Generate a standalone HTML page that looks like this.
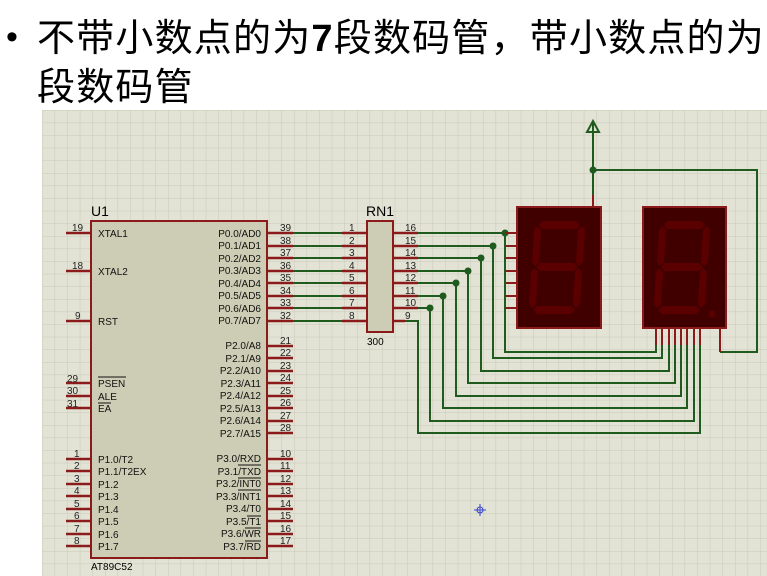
<!DOCTYPE html>
<html><head><meta charset="utf-8"><style>
body{margin:0;width:767px;height:576px;background:#fff;overflow:hidden;position:relative;font-family:"Liberation Sans","Noto Sans CJK SC",sans-serif}
.t{position:absolute;left:37px;font-size:38px;line-height:40px;color:#000;white-space:nowrap;letter-spacing:1.2px;font-family:"Liberation Sans","Noto Sans CJK SC",sans-serif}
</style></head><body>
<div style="position:absolute;left:6px;top:18px;font-size:34px">•</div>
<div class="t" style="top:19px">不带小数点的为<b>7</b>段数码管，带小数点的为</div>
<div class="t" style="top:68px">段数码管</div>
<svg width="767" height="576" style="position:absolute;left:0;top:0" font-family="Liberation Sans, sans-serif">
<defs><pattern id="g" x="42" y="110" width="12.6" height="12.6" patternUnits="userSpaceOnUse"><rect width="12.6" height="12.6" fill="#e3e3d5"/><path d="M0 0H12.6M0 0V12.6" stroke="#c9c9b9" stroke-width="1"/></pattern></defs>
<rect x="42" y="110" width="725" height="466" fill="url(#g)"/>
<rect x="91" y="221" width="176" height="337" fill="#cdcdb5" stroke="#8b1a1a" stroke-width="2"/>
<text x="91" y="216" font-size="14">U1</text>
<text x="91" y="570" font-size="10">AT89C52</text>
<g stroke="#8b1a1a" stroke-width="2.5">
<path d="M66 233H91M66 271H91M66 321H91M66 383H91M66 396H91M66 408H91"/>
<path d="M66 459H91M66 471H91M66 484H91M66 496H91M66 509H91M66 521H91M66 534H91M66 546H91"/>
<path d="M267 233H293M267 246H293M267 258H293M267 271H293M267 283H293M267 296H293M267 308H293M267 321H293"/>
<path d="M267 346H293M267 358H293M267 371H293M267 383H293M267 396H293M267 408H293M267 421H293M267 433H293"/>
<path d="M267 459H293M267 471H293M267 484H293M267 496H293M267 509H293M267 521H293M267 534H293M267 546H293"/>
<path d="M342 233H367M342 246H367M342 258H367M342 271H367M342 283H367M342 296H367M342 308H367M342 321H367"/>
<path d="M393 233H418M393 246H418M393 258H418M393 271H418M393 283H418M393 296H418M393 308H418M393 321H405"/>
</g>
<g stroke="#1f5a1f" stroke-width="2" fill="none">
<path d="M293 233H342M293 246H342M293 258H342M293 271H342M293 283H342M293 296H342M293 308H342M293 321H342"/>
<path d="M405 321H418V433H700V345"/>
<path d="M418 233H505V352H656V345M418 246H493V358H662V345M418 258H481V371H669V345M418 271H468V383H675V345M418 283H456V396H681V345M418 296H443V408H687V345M418 308H430V421H694V345"/>
<path d="M720 352H757V170H593V195M593 170V122"/>
</g>
<path d="M587 132L593 121L599 132Z" fill="none" stroke="#1f5a1f" stroke-width="2"/>
<g fill="#1f5a1f"><circle cx="505" cy="233" r="3.5"/><circle cx="493" cy="246" r="3.5"/><circle cx="481" cy="258" r="3.5"/><circle cx="468" cy="271" r="3.5"/><circle cx="456" cy="283" r="3.5"/><circle cx="443" cy="296" r="3.5"/><circle cx="430" cy="308" r="3.5"/><circle cx="593" cy="170" r="3.5"/></g>
<g stroke="#8b1a1a" stroke-width="2">
<path d="M505 233H517M505 246H517M505 258H517M505 271H517M505 283H517M505 296H517M505 308H517M593 195V207"/>
<path d="M656 328V345M662 328V345M669 328V345M675 328V345M681 328V345M687 328V345M694 328V345M700 328V345M720 328V352"/>
</g>
<rect x="367" y="221" width="26" height="111" fill="#cdcdb5" stroke="#8b1a1a" stroke-width="2"/>
<text x="366" y="216" font-size="14">RN1</text>
<text x="367" y="345" font-size="10">300</text>
<g font-size="10" fill="#222">
<text x="72" y="231">19</text><text x="72" y="269">18</text><text x="75" y="319">9</text>
<text x="67" y="382">29</text><text x="67" y="394">30</text><text x="67" y="407">31</text>
<text x="74" y="457">1</text><text x="74" y="469">2</text><text x="74" y="482">3</text><text x="74" y="494">4</text><text x="74" y="507">5</text><text x="74" y="519">6</text><text x="74" y="532">7</text><text x="74" y="544">8</text>
<text x="280" y="231">39</text><text x="280" y="244">38</text><text x="280" y="256">37</text><text x="280" y="269">36</text><text x="280" y="281">35</text><text x="280" y="294">34</text><text x="280" y="306">33</text><text x="280" y="319">32</text>
<text x="280" y="344">21</text><text x="280" y="356">22</text><text x="280" y="369">23</text><text x="280" y="381">24</text><text x="280" y="394">25</text><text x="280" y="406">26</text><text x="280" y="419">27</text><text x="280" y="431">28</text>
<text x="280" y="457">10</text><text x="280" y="469">11</text><text x="280" y="482">12</text><text x="280" y="494">13</text><text x="280" y="507">14</text><text x="280" y="519">15</text><text x="280" y="532">16</text><text x="280" y="544">17</text>
<text x="349" y="231">1</text><text x="349" y="244">2</text><text x="349" y="256">3</text><text x="349" y="269">4</text><text x="349" y="281">5</text><text x="349" y="294">6</text><text x="349" y="306">7</text><text x="349" y="319">8</text>
<text x="405" y="231">16</text><text x="405" y="244">15</text><text x="405" y="256">14</text><text x="405" y="269">13</text><text x="405" y="281">12</text><text x="405" y="294">11</text><text x="405" y="306">10</text><text x="405" y="319">9</text>
</g>
<g font-size="10" fill="#111">
<text x="98" y="237">XTAL1</text><text x="98" y="275">XTAL2</text><text x="98" y="325">RST</text>
<text x="98" y="387">PSEN</text><text x="98" y="400">ALE</text><text x="98" y="412">EA</text>
<path d="M98 377H126M98 403H111" stroke="#111" stroke-width="1"/>
<text x="98" y="463">P1.0/T2</text><text x="98" y="475">P1.1/T2EX</text><text x="98" y="488">P1.2</text><text x="98" y="500">P1.3</text><text x="98" y="513">P1.4</text><text x="98" y="525">P1.5</text><text x="98" y="538">P1.6</text><text x="98" y="550">P1.7</text>
<g text-anchor="end">
<text x="261" y="237">P0.0/AD0</text><text x="261" y="249">P0.1/AD1</text><text x="261" y="262">P0.2/AD2</text><text x="261" y="274">P0.3/AD3</text><text x="261" y="287">P0.4/AD4</text><text x="261" y="299">P0.5/AD5</text><text x="261" y="312">P0.6/AD6</text><text x="261" y="324">P0.7/AD7</text>
<text x="261" y="349">P2.0/A8</text><text x="261" y="362">P2.1/A9</text><text x="261" y="374">P2.2/A10</text><text x="261" y="387">P2.3/A11</text><text x="261" y="399">P2.4/A12</text><text x="261" y="412">P2.5/A13</text><text x="261" y="424">P2.6/A14</text><text x="261" y="437">P2.7/A15</text>
<text x="261" y="462">P3.0/RXD</text><text x="261" y="475">P3.1/TXD</text><text x="261" y="487">P3.2/INT0</text><text x="261" y="500">P3.3/INT1</text><text x="261" y="512">P3.4/T0</text><text x="261" y="525">P3.5/T1</text><text x="261" y="537">P3.6/WR</text><text x="261" y="550">P3.7/RD</text>
</g>
<path d="M238 465H261M238 478H261M238 490H261M247 516H261M245 528H261M245 541H261" stroke="#111" stroke-width="1"/>
</g>
<g>
<rect x="517" y="207" width="84" height="121" fill="#400000" stroke="#8b1a1a" stroke-width="2"/>
<rect x="643" y="207" width="83" height="121" fill="#400000" stroke="#8b1a1a" stroke-width="2"/>
<g fill="#5a0000">
<g id="d">
<polygon points="542,221 576,221 580,225 576,229 542,229 539,225"/>
<polygon points="537,226 541,230 539,262 535,266 532,262 534,230"/>
<polygon points="582,226 585,230 583,262 579,266 576,262 578,230"/>
<polygon points="540,263 574,263 578,267 574,271 540,271 536,267"/>
<polygon points="534,268 538,272 536,304 532,308 529,304 531,272"/>
<polygon points="578,268 582,272 580,304 576,308 573,304 575,272"/>
<polygon points="537,306 571,306 575,310 571,314 537,314 533,310"/>
</g>
<use href="#d" x="125"/>
<circle cx="712" cy="314" r="3.5"/>
</g>
</g>
<g stroke="#3344cc" stroke-width="1" fill="none"><circle cx="480" cy="510" r="3"/><path d="M474 510H486M480 504V516"/></g>
</svg>
</body></html>
